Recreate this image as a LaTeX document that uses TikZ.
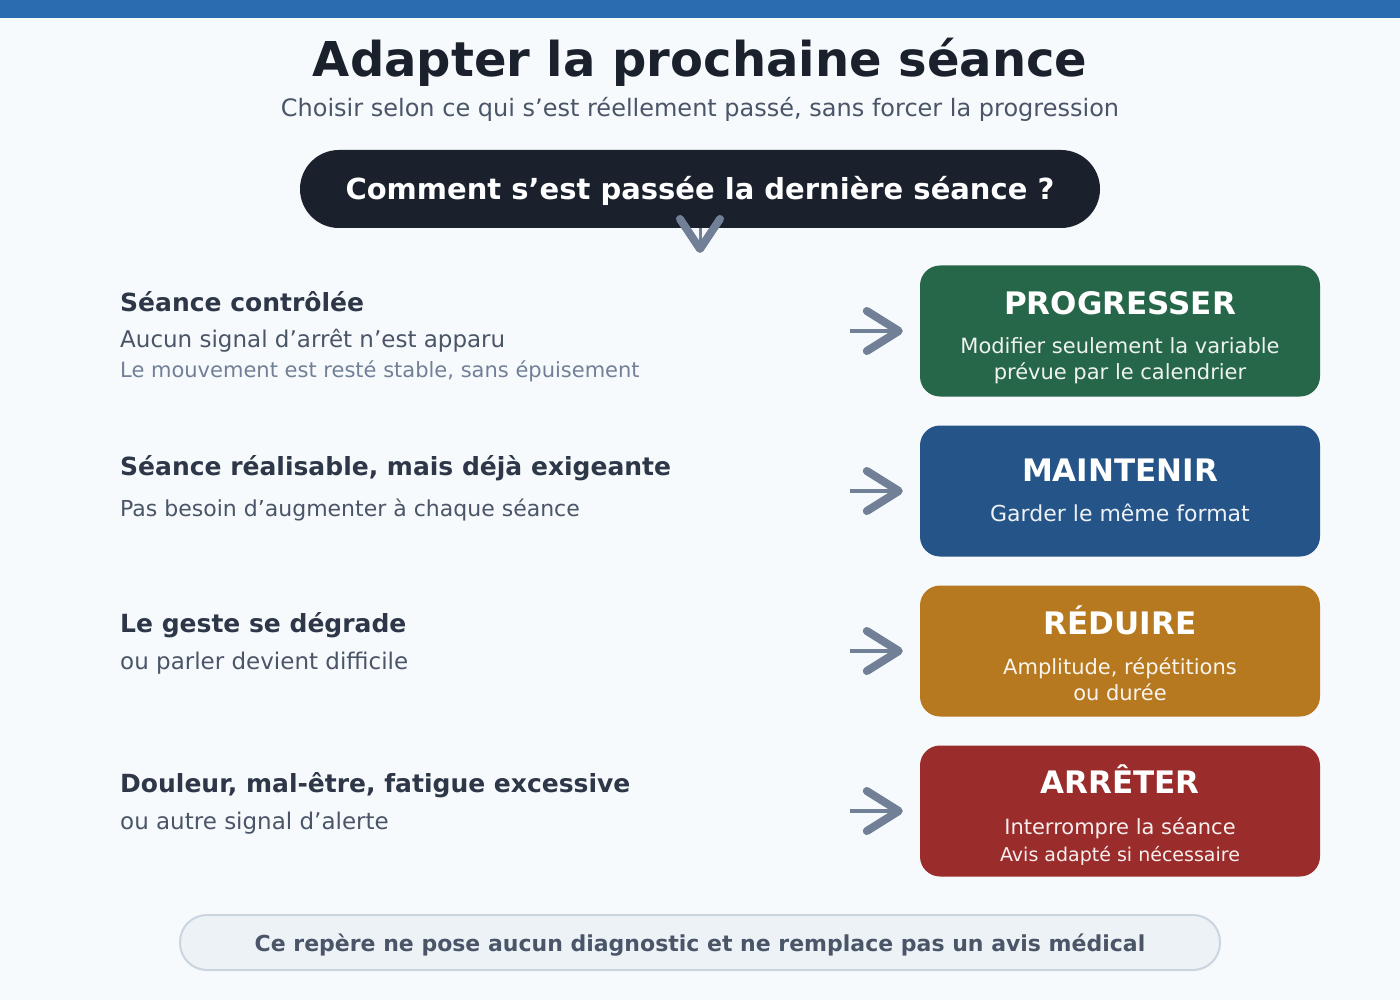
\documentclass[tikz,border=0pt]{standalone}
\usepackage{fontspec}
\setmainfont{DejaVu Sans}
\usetikzlibrary{arrows.meta}

\definecolor{fond}{HTML}{F7FAFC}
\definecolor{bandeau}{HTML}{2B6CB0}
\definecolor{encre}{HTML}{1A202C}
\definecolor{ardoise}{HTML}{2D3748}
\definecolor{gris}{HTML}{4A5568}
\definecolor{grisclair}{HTML}{718096}
\definecolor{vert}{HTML}{276749}
\definecolor{bleu}{HTML}{245488}
\definecolor{ocre}{HTML}{B7791F}
\definecolor{rouge}{HTML}{9B2C2C}
\definecolor{pied}{HTML}{EDF2F7}
\definecolor{bordpied}{HTML}{CBD5E0}

\begin{document}
\begin{tikzpicture}[x=1pt, y=-1pt,
    boite/.style={rounded corners=20pt, minimum width=400pt, minimum height=131pt, inner sep=0pt},
    titreboite/.style={anchor=base, text=white, inner sep=0pt, font=\bfseries\fontsize{31}{37}\selectfont},
    texteboite/.style={anchor=base, text=white, text opacity=0.92, inner sep=0pt, font=\fontsize{21}{26}\selectfont},
    titrecas/.style={anchor=base west, text=ardoise, inner sep=0pt, font=\bfseries\fontsize{25}{30}\selectfont},
    textecas/.style={anchor=base west, text=gris, inner sep=0pt, font=\fontsize{23}{28}\selectfont},
    notecas/.style={anchor=base west, text=grisclair, inner sep=0pt, font=\fontsize{21}{25}\selectfont},
    fleche/.style={draw=grisclair, line width=4pt, shorten >=17pt,
        -{Straight Barb[round, line width=8pt, length=32pt, width=40pt]}}
]
    % Fond et bandeau
    \useasboundingbox (0,0) rectangle (1400,1000);
    \fill[fond] (0,0) rectangle (1400,1000);
    \fill[bandeau] (0,0) rectangle (1400,18);

    % Titre
    \node[anchor=base, text=encre, font=\bfseries\fontsize{48}{58}\selectfont] (titre) at (700,77) {Adapter la prochaine séance};
    \node[anchor=base, text=gris, font=\fontsize{24}{29}\selectfont] (soustitre) at (700,117) {Choisir selon ce qui s’est réellement passé, sans forcer la progression};

    % Question
    \node[fill=encre, rounded corners=39pt, minimum width=800pt, minimum height=78pt, text=white,
        text height=22pt, text depth=0pt, font=\bfseries\fontsize{29}{35}\selectfont] (question) at (700,189) {Comment s’est passée la dernière séance ?};
    \coordinate (pointe) at (700,253);
    \draw[draw=grisclair, line width=3pt, -{Straight Barb[round, line width=8pt, length=30pt, width=40pt]}] (question.south) -- (pointe);

    % Situations
    \node[titrecas] (cas1) at (120,312) {Séance contrôlée};
    \node[textecas] (cas1a) at (120,347) {Aucun signal d’arrêt n’est apparu};
    \node[notecas] (cas1b) at (120,377) {Le mouvement est resté stable, sans épuisement};

    \node[titrecas] (cas2) at (120,475) {Séance réalisable, mais déjà exigeante};
    \node[textecas, font=\fontsize{22}{26}\selectfont] (cas2a) at (120,516) {Pas besoin d’augmenter à chaque séance};

    \node[titrecas] (cas3) at (120,632) {Le geste se dégrade};
    \node[textecas] (cas3a) at (120,669) {ou parler devient difficile};

    \node[titrecas] (cas4) at (120,792) {Douleur, mal-être, fatigue excessive};
    \node[textecas] (cas4a) at (120,829) {ou autre signal d’alerte};

    % Décisions
    \node[boite, fill=vert] (progresser) at (1120,331) {};
    \node[titreboite] at (1120,314) {PROGRESSER};
    \node[texteboite] at (1120,353) {Modifier seulement la variable};
    \node[texteboite] at (1120,379) {prévue par le calendrier};

    \node[boite, fill=bleu] (maintenir) at (1120,491) {};
    \node[titreboite] at (1120,481) {MAINTENIR};
    \node[texteboite, font=\fontsize{22}{26}\selectfont] at (1120,521) {Garder le même format};

    \node[boite, fill=ocre] (reduire) at (1120,651) {};
    \node[titreboite] at (1120,634) {RÉDUIRE};
    \node[texteboite] at (1120,674) {Amplitude, répétitions};
    \node[texteboite] at (1120,700) {ou durée};

    \node[boite, fill=rouge] (arreter) at (1120,811) {};
    \node[titreboite] at (1120,793) {ARRÊTER};
    \node[texteboite] at (1120,834) {Interrompre la séance};
    \node[texteboite, font=\fontsize{19}{23}\selectfont] at (1120,861) {Avis adapté si nécessaire};

    % Flèches
    \coordinate (depart1) at (850,331);
    \coordinate (depart2) at (850,491);
    \coordinate (depart3) at (850,651);
    \coordinate (depart4) at (850,811);
    \draw[fleche] (depart1) -- (progresser.west);
    \draw[fleche] (depart2) -- (maintenir.west);
    \draw[fleche] (depart3) -- (reduire.west);
    \draw[fleche] (depart4) -- (arreter.west);

    % Avertissement
    \node[fill=pied, draw=bordpied, line width=2pt, rounded corners=27pt, minimum width=1040pt, minimum height=55pt,
        text=gris, text height=17pt, text depth=0pt, font=\bfseries\fontsize{22}{26}\selectfont] (avertissement) at (700,942.5)
        {Ce repère ne pose aucun diagnostic et ne remplace pas un avis médical};
\end{tikzpicture}
\end{document}
